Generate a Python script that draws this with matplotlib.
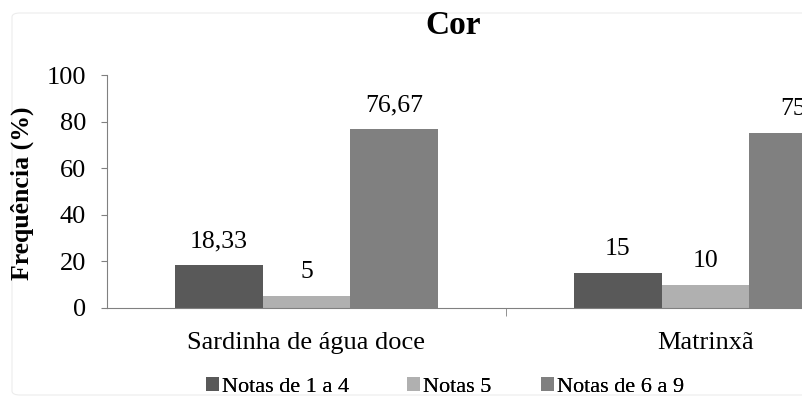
import matplotlib.pyplot as plt
import numpy as np
from matplotlib.patches import FancyBboxPatch

categories = ["Sardinha de água doce", "Matrinxã"]
series_names = ["Notas de 1 a 4", "Notas 5", "Notas de 6 a 9"]
values = {
    "Notas de 1 a 4": [18.33, 15],
    "Notas 5": [5, 10],
    "Notas de 6 a 9": [76.67, 75],
}
value_labels = {
    "Notas de 1 a 4": ["18,33", "15"],
    "Notas 5": ["5", "10"],
    "Notas de 6 a 9": ["76,67", "75"],
}
colors = ["#595959", "#b0b0b0", "#808080"]

plt.rcParams["font.family"] = ["Liberation Serif", "DejaVu Serif"]

fig = plt.figure(figsize=(8.03, 4.05), dpi=100)
# faint chart-area border (original chart is cropped on the right)
fig.patches.append(FancyBboxPatch((12 / 803, 1 - 395 / 405), 1.2, 382 / 405,
                                  boxstyle="round,pad=0,rounding_size=0.01",
                                  transform=fig.transFigure, fill=False,
                                  edgecolor="#ececec", lw=0.8))

# axes extend beyond the right edge, as in the cropped original
ax = fig.add_axes([107 / 803, 1 - 308 / 405, 798 / 803, 233 / 405])

x = np.arange(len(categories))
w = 0.22
bars = []
for i, (name, c) in enumerate(zip(series_names, colors)):
    pos = x + (i - 1) * w
    bars.append(ax.bar(pos, values[name], width=w, color=c, label=name))
    for p, v, t in zip(pos, values[name], value_labels[name]):
        ax.annotate(t, (p, v), xytext=(0, 13), textcoords="offset points",
                    ha="center", va="baseline", fontsize=18.5)

ax.set_xlim(-0.5, 1.5)
ax.set_ylim(0, 100)
ax.set_yticks(range(0, 101, 20))
ax.tick_params(axis="y", labelsize=19, length=4, color="#808080", pad=11)
ax.set_xticks(x)
ax.set_xticklabels(categories, fontsize=19)
ax.tick_params(axis="x", length=0, pad=17)
ax.set_xticks([0.5], minor=True)
ax.tick_params(axis="x", which="minor", length=6, color="#808080")

for s in ["top", "right"]:
    ax.spines[s].set_visible(False)
ax.spines["left"].set_color("#808080")
ax.spines["bottom"].set_color("#808080")

fig.text(22 / 803, 1 - 193 / 405, "Frequência (%)", rotation=90,
         ha="center", va="center", fontsize=18.5, fontweight="bold")

fig.text(453 / 803, 1 - 26 / 405, "Cor", ha="center", va="center",
         fontsize=24, fontweight="bold")

# Excel-style legend: equal-width slots, one small legend per entry
for b, name, x0 in zip(bars, series_names, [206, 407, 541]):
    leg = fig.legend([b], [name], loc="center left",
                     bbox_to_anchor=(x0 / 803, 1 - 387 / 405),
                     frameon=False, fontsize=16, borderpad=0,
                     borderaxespad=0, handlelength=0.6, handleheight=0.6,
                     handletextpad=0.1)
    fig.add_artist(leg)

fig.savefig("out.png", dpi=100)
